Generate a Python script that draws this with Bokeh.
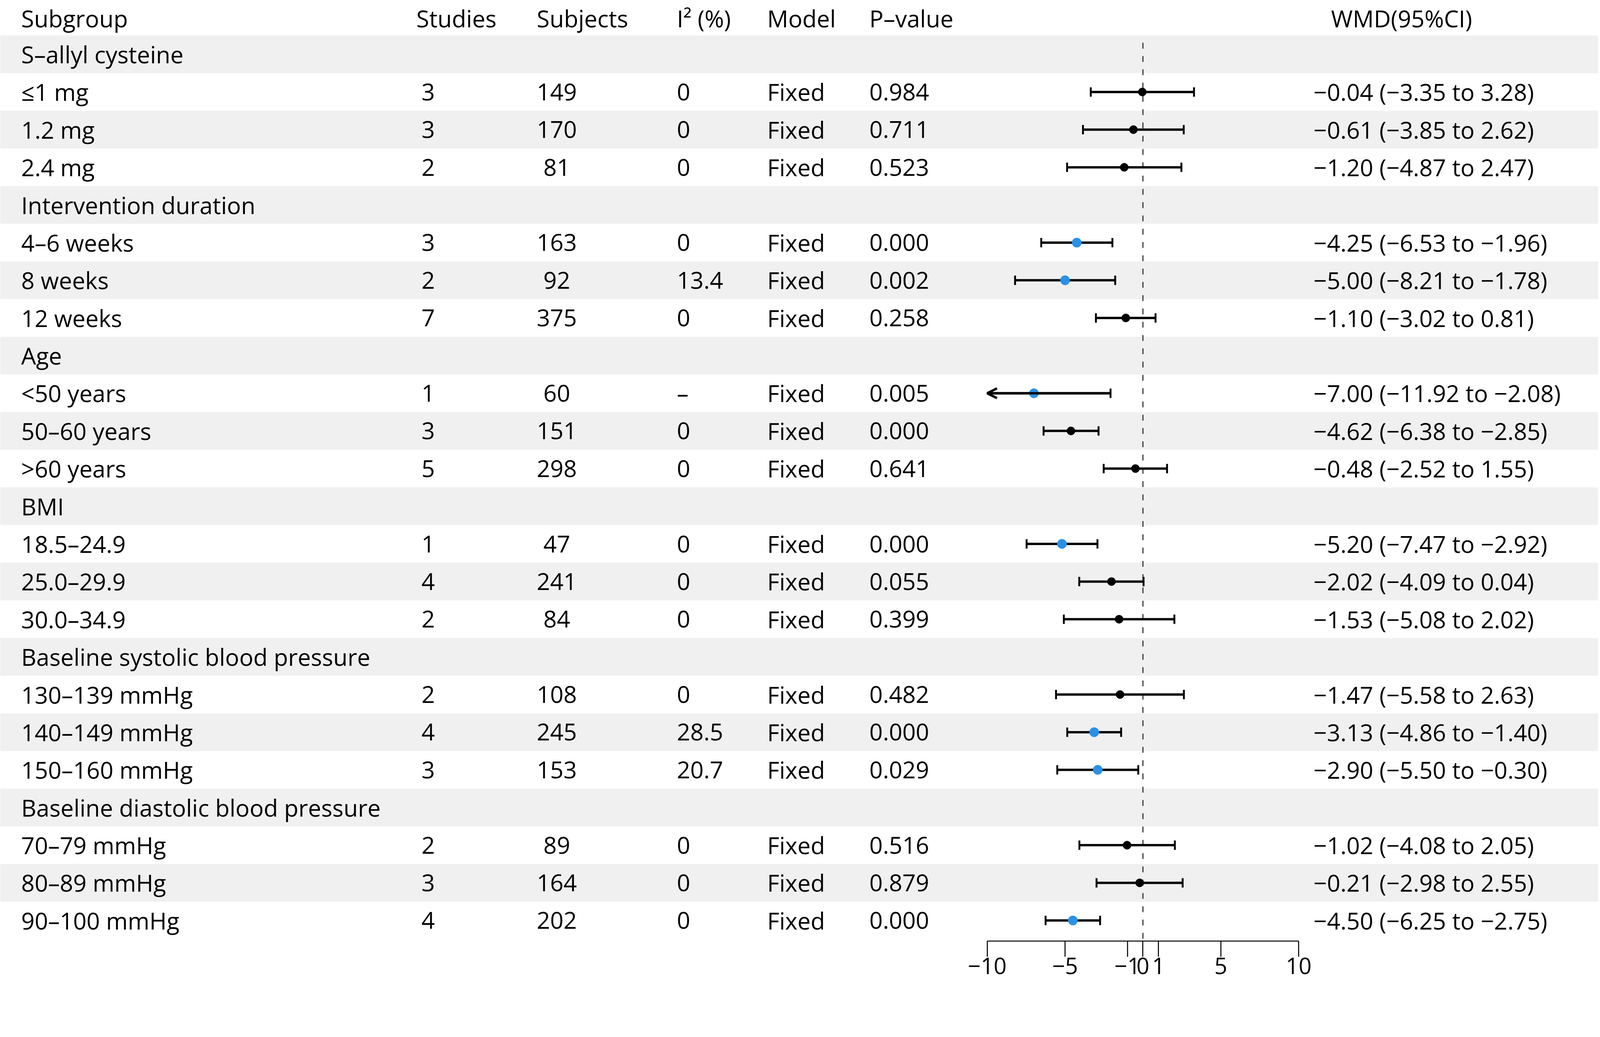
import numpy as np
from bokeh.plotting import figure
from bokeh.models import (ColumnDataSource, LabelSet, Range1d, FixedTicker, Arrow,
                          OpenHead, CustomJSTickFormatter)
from bokeh.core.properties import value
from bokeh.embed import file_html
from bokeh.resources import INLINE

# ---------------- data ----------------
headings = ["S–allyl cysteine", "Intervention duration", "Age", "BMI",
            "Baseline systolic blood pressure", "Baseline diastolic blood pressure"]
levels = ["≤1 mg", "1.2 mg", "2.4 mg",
          "4–6 weeks", "8 weeks", "12 weeks",
          "<50 years", "50–60 years", ">60 years",
          "18.5–24.9", "25.0–29.9", "30.0–34.9",
          "130–139 mmHg", "140–149 mmHg", "150–160 mmHg",
          "70–79 mmHg", "80–89 mmHg", "90–100 mmHg"]
studies = [3, 3, 2, 3, 2, 7, 1, 3, 5, 1, 4, 2, 2, 4, 3, 2, 3, 4]
subjects = [149, 170, 81, 163, 92, 375, 60, 151, 298, 47, 241, 84, 108, 245, 153, 89, 164, 202]
i2 = ["0", "0", "0", "0", "13.4", "0", "–", "0", "0", "0", "0", "0", "0", "28.5", "20.7", "0", "0", "0"]
model = ["Fixed"] * 18
p_value = ["0.984", "0.711", "0.523", "0.000", "0.002", "0.258", "0.005", "0.000", "0.641",
           "0.000", "0.055", "0.399", "0.482", "0.000", "0.029", "0.516", "0.879", "0.000"]
wmd = [-0.04, -0.61, -1.20, -4.25, -5.00, -1.10, -7.00, -4.62, -0.48,
       -5.20, -2.02, -1.53, -1.47, -3.13, -2.90, -1.02, -0.21, -4.50]
ci_low = [-3.35, -3.85, -4.87, -6.53, -8.21, -3.02, -11.92, -6.38, -2.52,
          -7.47, -4.09, -5.08, -5.58, -4.86, -5.50, -4.08, -2.98, -6.25]
ci_high = [3.28, 2.62, 2.47, -1.96, -1.78, 0.81, -2.08, -2.85, 1.55,
           -2.92, 0.04, 2.02, 2.63, -1.40, -0.30, 2.05, 2.55, -2.75]
highlight = [0, 0, 0, 1, 1, 0, 1, 0, 0, 1, 0, 0, 0, 1, 1, 0, 0, 1]
axis_ticks = [-10, -5, -1, 0, 1, 5, 10]
axis_limits = (-10, 10)

header_labels = ["Subgroup", "Studies", "Subjects", "I² (%)", "Model", "P–value", "WMD(95%CI)"]

# ---------------- layout (page pixels) ----------------
ZOOM = 1.051


def css(px):
    return px / ZOOM - 8


FONT = "Open Sans"
FS = "60px"
W, H = 4091, 2509
x_m10, x_p10 = css(2664), css(3502)
px_per_unit = (x_p10 - x_m10) / 20.0
x_lo = -10 - x_m10 / px_per_unit
x_hi = 10 + (W - x_p10) / px_per_unit
row_px = 101.3 / ZOOM
first_row_px = css(154)
frame_h = round(css(2539))
y_top = 1 - first_row_px / row_px
y_bot = y_top + frame_h / row_px

BLUE = "#2a91e6"
GRAY = "#f0f0f0"

head_rows = [1 + 4 * g for g in range(len(headings))]
level_rows = [2 + 4 * g + j for g in range(len(headings)) for j in range(3)]
all_rows = sorted(head_rows + level_rows)
band_rows = [r for r in all_rows if r % 2 == 1]

p = figure(width=W, height=H, x_range=Range1d(x_lo, x_hi), y_range=Range1d(y_bot, y_top),
           output_backend="svg", toolbar_location=None, y_axis_location=None,
           min_border=0, outline_line_color=None)
p.min_border_bottom = H - frame_h
p.xgrid.visible = False
p.ygrid.visible = False
p.background_fill_color = "white"
p.border_fill_color = "white"

# bands
p.hbar(y=band_rows, height=1.0, left=x_lo, right=x_hi, color=GRAY, line_color=None)

# zero reference line
p.segment(x0=[0], y0=[0.694], x1=[0], y1=[y_bot], line_dash="15 19",
          line_width=2.6, line_color="#222222")

# forest data
lo = np.array(ci_low)
hi = np.array(ci_high)
lo_clip = np.maximum(lo, axis_limits[0])
colors = [BLUE if h else "black" for h in highlight]
sizes = [24 if h else 21 for h in highlight]
src = ColumnDataSource(dict(y=level_rows, wmd=wmd, lo=lo_clip, hi=hi, color=colors, size=sizes))
p.segment(x0="lo", x1="hi", y0="y", y1="y", line_width=6, line_color="black", source=src)
p.scatter(x="hi", y="y", marker="dash", angle=np.pi / 2, size=24, line_width=4.8,
          line_color="black", source=src)
inside = lo >= axis_limits[0]
cap_src = ColumnDataSource(dict(x=lo[inside], y=np.array(level_rows)[inside]))
p.scatter(x="x", y="y", marker="dash", angle=np.pi / 2, size=24, line_width=4.8,
          line_color="black", source=cap_src)
out = ~inside
arr_src = ColumnDataSource(dict(x0=hi[out], x1=lo_clip[out], y=np.array(level_rows)[out]))
p.add_layout(Arrow(end=OpenHead(size=25, line_width=6, line_color="black"),
                   x_start="x0", y_start="y", x_end="x1", y_end="y",
                   line_width=6, line_color="black", source=arr_src))
p.scatter(x="wmd", y="y", size="size", fill_color="color", line_color="color", source=src)

# axis
ax = p.xaxis[0]
ax.ticker = FixedTicker(ticks=axis_ticks)
ax.bounds = axis_limits
ax.formatter = CustomJSTickFormatter(code="return (tick < 0 ? '\u2212' : '') + Math.abs(tick).toFixed(0);")
ax.major_tick_out = 40
ax.major_tick_in = 0
ax.minor_tick_out = 0
ax.minor_tick_in = 0
ax.axis_line_width = 2.6
ax.major_tick_line_width = 2.6
ax.major_label_text_font = FONT
ax.major_label_text_font_size = "58px"
ax.major_label_text_color = "black"
ax.major_label_standoff = 2


def add_col(x, ys, texts, align):
    s = ColumnDataSource(dict(y=list(ys), text=list(texts)))
    p.add_layout(LabelSet(x=x, y="y", text="text", x_units="screen", source=s,
                          text_align=align, text_baseline="middle",
                          text_font=value(FONT), text_font_size=FS, text_color="black"))


HEADER_Y = 1 - (154 - 57) / 101.3
x_sub = css(65)
header_x = [x_sub, css(1128), css(1452), css(1829), css(2072), css(2347), css(3779)]
header_align = ["left", "left", "left", "left", "left", "left", "center"]
for hx, ht, ha in zip(header_x, header_labels, header_align):
    add_col(hx, [HEADER_Y], [ht], ha)

add_col(x_sub, head_rows, headings, "left")
add_col(x_sub, level_rows, levels, "left")
add_col(css(1160), level_rows, [str(s) for s in studies], "center")
add_col(css(1506), level_rows, [str(s) for s in subjects], "center")
add_col(css(1829), level_rows, i2, "left")
add_col(css(2072), level_rows, model, "left")
add_col(css(2347), level_rows, p_value, "left")
wmd_txt = [f"{w:.2f} ({l:.2f} to {h:.2f})".replace("-", "−") for w, l, h in zip(wmd, ci_low, ci_high)]
add_col(css(3542), level_rows, wmd_txt, "left")

open("out.html", "w").write(file_html(p, INLINE))
